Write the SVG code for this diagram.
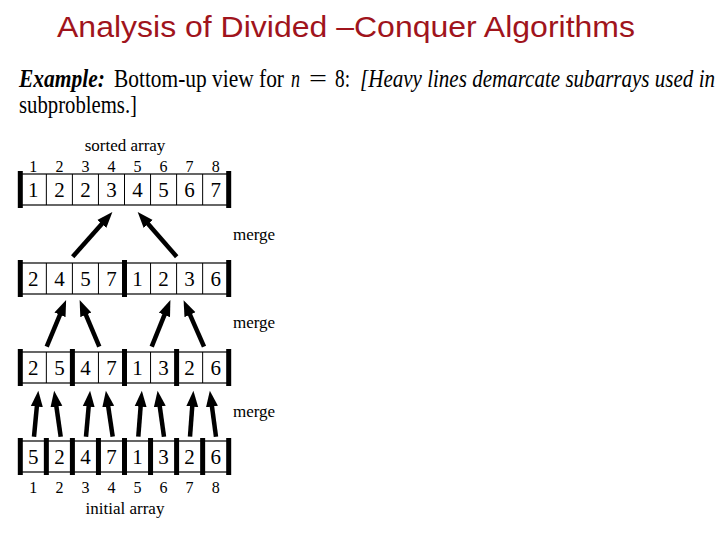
<svg xmlns="http://www.w3.org/2000/svg" width="720" height="540" viewBox="0 0 720 540">
<style>
.title{font-family:"Liberation Sans",Arial,sans-serif;font-size:30px;fill:#a0141c}
.ex{font-family:"Liberation Serif","Times New Roman",serif;font-size:25px;fill:#000}
.it{font-style:italic}
.lbl{font-family:"Liberation Serif","Times New Roman",serif;font-size:17px;fill:#000}
.idx{font-family:"Liberation Serif","Times New Roman",serif;font-size:16px;fill:#000;text-anchor:middle}
.dig{font-family:"Liberation Serif","Times New Roman",serif;font-size:21px;fill:#000;text-anchor:middle}
.box{fill:#fff;stroke:#000;stroke-width:1.2}
.cell{stroke:#000;stroke-width:1}
.bar{fill:#000}
.arr{stroke:#000;stroke-width:4.5;fill:none;marker-end:url(#ah)}
</style>
<defs>
<marker id="ah" markerUnits="userSpaceOnUse" markerWidth="18" markerHeight="14" viewBox="0 -7 18 14" refX="5" refY="0" orient="auto">
<path d="M0,-6 L16,0 L0,6 z" fill="#000"/>
</marker>
</defs>
<rect width="720" height="540" fill="#fff"/>
<text class="title" x="57" y="37" textLength="578" lengthAdjust="spacingAndGlyphs">Analysis of Divided –Conquer Algorithms</text>
<text class="ex" x="19" y="87" textLength="86" lengthAdjust="spacingAndGlyphs" font-weight="bold" font-style="italic">Example:</text>
<text class="ex" x="114" y="87" textLength="170" lengthAdjust="spacingAndGlyphs">Bottom-up view for</text>
<text class="ex it" x="291" y="87" textLength="9" lengthAdjust="spacingAndGlyphs">n</text>
<text class="ex" x="309" y="87" textLength="18" lengthAdjust="spacingAndGlyphs">=</text>
<text class="ex" x="335" y="87" textLength="15" lengthAdjust="spacingAndGlyphs">8:</text>
<text class="ex it" x="360" y="87" textLength="355" lengthAdjust="spacingAndGlyphs">[Heavy lines demarcate subarrays used in</text>
<text class="ex" x="19" y="113" textLength="118" lengthAdjust="spacingAndGlyphs">subproblems.]</text>

<g id="sorted-array">
<text class="lbl" x="125" y="151" text-anchor="middle">sorted array</text>
<text class="idx" y="172"><tspan x="33.3">1</tspan><tspan x="59.4">2</tspan><tspan x="85.4">3</tspan><tspan x="111.5">4</tspan><tspan x="137.5">5</tspan><tspan x="163.6">6</tspan><tspan x="189.6">7</tspan><tspan x="215.7">8</tspan></text>
<rect class="box" x="20.3" y="174" width="208.4" height="31"/>
<path class="cell" d="M46.35,174v31M72.4,174v31M98.45,174v31M124.5,174v31M150.55,174v31M176.6,174v31M202.65,174v31"/>
<rect class="bar" x="17.8" y="171" width="5" height="37"/><rect class="bar" x="226.2" y="171" width="5" height="37"/>
<text class="dig" y="196.5"><tspan x="33.3">1</tspan><tspan x="59.4">2</tspan><tspan x="85.4">2</tspan><tspan x="111.5">3</tspan><tspan x="137.5">4</tspan><tspan x="163.6">5</tspan><tspan x="189.6">6</tspan><tspan x="215.7">7</tspan></text>
</g>

<g id="level2">
<rect class="box" x="20.3" y="263" width="208.4" height="31"/>
<path class="cell" d="M46.35,263v31M72.4,263v31M98.45,263v31M150.55,263v31M176.6,263v31M202.65,263v31"/>
<rect class="bar" x="17.8" y="260" width="5" height="37"/><rect class="bar" x="122" y="260" width="5" height="37"/><rect class="bar" x="226.2" y="260" width="5" height="37"/>
<text class="dig" y="285.5"><tspan x="33.3">2</tspan><tspan x="59.4">4</tspan><tspan x="85.4">5</tspan><tspan x="111.5">7</tspan><tspan x="137.5">1</tspan><tspan x="163.6">2</tspan><tspan x="189.6">3</tspan><tspan x="215.7">6</tspan></text>
</g>

<g id="level3">
<rect class="box" x="20.3" y="352" width="208.4" height="31"/>
<path class="cell" d="M46.35,352v31M98.45,352v31M150.55,352v31M202.65,352v31"/>
<rect class="bar" x="17.8" y="349" width="5" height="37"/><rect class="bar" x="69.9" y="349" width="5" height="37"/><rect class="bar" x="122" y="349" width="5" height="37"/><rect class="bar" x="174.1" y="349" width="5" height="37"/><rect class="bar" x="226.2" y="349" width="5" height="37"/>
<text class="dig" y="374.5"><tspan x="33.3">2</tspan><tspan x="59.4">5</tspan><tspan x="85.4">4</tspan><tspan x="111.5">7</tspan><tspan x="137.5">1</tspan><tspan x="163.6">3</tspan><tspan x="189.6">2</tspan><tspan x="215.7">6</tspan></text>
</g>

<g id="initial-array">
<rect class="box" x="20.3" y="441" width="208.4" height="31"/>
<rect class="bar" x="17.8" y="438" width="5" height="37"/><rect class="bar" x="43.85" y="438" width="5" height="37"/><rect class="bar" x="69.9" y="438" width="5" height="37"/><rect class="bar" x="95.95" y="438" width="5" height="37"/><rect class="bar" x="122" y="438" width="5" height="37"/><rect class="bar" x="148.05" y="438" width="5" height="37"/><rect class="bar" x="174.1" y="438" width="5" height="37"/><rect class="bar" x="200.15" y="438" width="5" height="37"/><rect class="bar" x="226.2" y="438" width="5" height="37"/>
<text class="dig" y="463.5"><tspan x="33.3">5</tspan><tspan x="59.4">2</tspan><tspan x="85.4">4</tspan><tspan x="111.5">7</tspan><tspan x="137.5">1</tspan><tspan x="163.6">3</tspan><tspan x="189.6">2</tspan><tspan x="215.7">6</tspan></text>
<text class="idx" y="493"><tspan x="33.3">1</tspan><tspan x="59.4">2</tspan><tspan x="85.4">3</tspan><tspan x="111.5">4</tspan><tspan x="137.5">5</tspan><tspan x="163.6">6</tspan><tspan x="189.6">7</tspan><tspan x="215.7">8</tspan></text>
<text class="lbl" x="125" y="514" text-anchor="middle">initial array</text>
</g>

<g id="merge-labels">
<text class="lbl" x="233" y="240">merge</text>
<text class="lbl" x="233" y="328">merge</text>
<text class="lbl" x="233" y="417">merge</text>
</g>

<g id="connectors">
<path class="arr" d="M72.7,256.7L105.1,220.2"/>
<path class="arr" d="M176.7,256.7L144.9,220.2"/>
<path class="arr" d="M46.7,346.7L61.9,310.2"/>
<path class="arr" d="M99.3,346.7L83.9,310.2"/>
<path class="arr" d="M151.7,346.7L166.3,310.3"/>
<path class="arr" d="M204,346.7L188,310.2"/>
<path class="arr" d="M34,436.7L37.3,401.6"/>
<path class="arr" d="M60.7,436.7L55.7,401.6"/>
<path class="arr" d="M86,436.7L89.1,401.7"/>
<path class="arr" d="M112.7,436.7L107.5,401.6"/>
<path class="arr" d="M138.3,436.7L141,401.7"/>
<path class="arr" d="M164,436.7L159.1,401.6"/>
<path class="arr" d="M190,436.7L192.6,401.7"/>
<path class="arr" d="M216,436.7L211.3,401.6"/>
</g>
</svg>
